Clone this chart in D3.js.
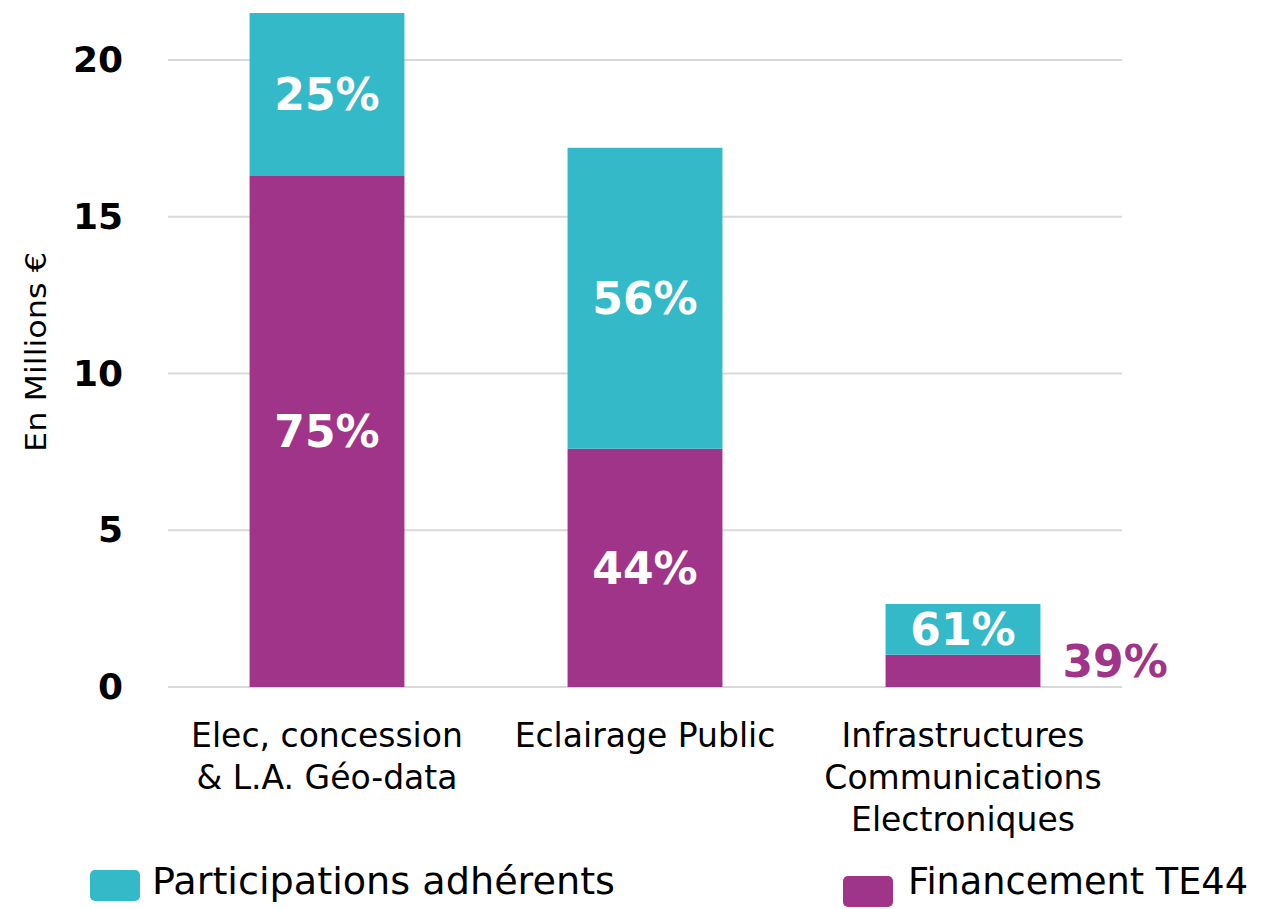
<!DOCTYPE html>
<html>
<head>
<meta charset="utf-8">
<script src="https://cdn.jsdelivr.net/npm/d3@7"></script>
<style>
  body { margin: 0; background: #fff; }
  text { font-family: "DejaVu Sans", Verdana, sans-serif; }
</style>
</head>
<body>
<div id="chart"></div>
<script>
const categories = [
    ["Elec, concession", "& L.A. Géo-data"],
    ["Eclairage Public"],
    ["Infrastructures", "Communications", "Electroniques"]
];
const financementTE44 = [16.3, 7.6, 1.03];
const participations = [5.2, 9.6, 1.62];
const financementPct = ["75%", "44%", "39%"];
const participationsPct = ["25%", "56%", "61%"];
const yTicks = [0, 5, 10, 15, 20];
const seriesNames = ["Participations adhérents", "Financement TE44"];

const teal = "#33b9c8", purple = "#a03489";
const width = 1263, height = 909;

const svg = d3.select("#chart").append("svg")
    .attr("width", width)
    .attr("height", height);

const x = d3.scaleBand()
    .domain(d3.range(categories.length))
    .range([168, 1122])
    .paddingInner(0.513)
    .paddingOuter(0.2565);

const y = d3.scaleLinear()
    .domain([0, 20])
    .range([687, 60]);

// grid lines
svg.append("g")
    .selectAll("line")
    .data(yTicks)
    .join("line")
    .attr("x1", 168)
    .attr("x2", 1122)
    .attr("y1", d => y(d))
    .attr("y2", d => y(d))
    .attr("stroke", "#d9d9d9")
    .attr("stroke-width", 2);

// y axis labels
const yAxis = svg.append("g")
    .attr("transform", "translate(168,0)")
    .call(d3.axisLeft(y).tickValues(yTicks).tickSize(0).tickPadding(45));
yAxis.select(".domain").remove();
yAxis.selectAll("text")
    .attr("font-family", "DejaVu Sans, Verdana, sans-serif")
    .attr("font-weight", "bold")
    .attr("font-size", 36)
    .attr("fill", "#000");

svg.append("text")
    .attr("transform", "translate(46,352) rotate(-90)")
    .attr("text-anchor", "middle")
    .attr("font-size", 28)
    .attr("textLength", 200)
    .attr("lengthAdjust", "spacingAndGlyphs")
    .text("En Millions €");

// bars
const bars = svg.append("g")
    .selectAll("g")
    .data(categories.map((c, i) => ({ i, fin: financementTE44[i], par: participations[i] })))
    .join("g");

bars.append("rect")
    .attr("x", d => x(d.i))
    .attr("width", x.bandwidth())
    .attr("y", d => y(d.fin))
    .attr("height", d => y(0) - y(d.fin))
    .attr("fill", purple);

bars.append("rect")
    .attr("x", d => x(d.i))
    .attr("width", x.bandwidth())
    .attr("y", d => y(d.fin + d.par))
    .attr("height", d => y(d.fin) - y(d.fin + d.par))
    .attr("fill", teal);

// percentage labels
bars.append("text")
    .attr("x", d => x(d.i) + x.bandwidth() / 2)
    .attr("y", d => (y(d.fin) + y(d.fin + d.par)) / 2)
    .attr("dy", "0.36em")
    .attr("text-anchor", "middle")
    .attr("font-weight", "bold")
    .attr("font-size", 44)
    .attr("fill", "#fff")
    .text(d => participationsPct[d.i]);

bars.append("text")
    .attr("x", d => d.i === 2 ? x(d.i) + x.bandwidth() + 22 : x(d.i) + x.bandwidth() / 2)
    .attr("y", d => d.i === 2 ? y(d.fin / 2) - 10 : (y(0) + y(d.fin)) / 2)
    .attr("dy", "0.36em")
    .attr("text-anchor", d => d.i === 2 ? "start" : "middle")
    .attr("font-weight", "bold")
    .attr("font-size", 44)
    .attr("fill", d => d.i === 2 ? purple : "#fff")
    .text(d => financementPct[d.i]);

// category labels
svg.append("g")
    .selectAll("text")
    .data(categories)
    .join("text")
    .attr("x", (d, i) => x(i) + x.bandwidth() / 2)
    .attr("y", 747)
    .attr("text-anchor", "middle")
    .attr("font-size", 33)
    .attr("fill", "#000")
    .selectAll("tspan")
    .data(d => d)
    .join("tspan")
    .attr("x", function () { return this.parentNode.getAttribute("x"); })
    .attr("dy", (d, j) => j === 0 ? 0 : 42)
    .text(d => d);

// legend
const legendX = [90, 843];
const legendTextW = [463, 340];
const legend = svg.append("g")
    .selectAll("g")
    .data(seriesNames)
    .join("g");

legend.append("rect")
    .attr("x", (d, i) => legendX[i])
    .attr("y", (d, i) => i === 0 ? 870 : 876)
    .attr("width", 50)
    .attr("height", 31)
    .attr("rx", 5)
    .attr("fill", (d, i) => i === 0 ? teal : purple);

legend.append("text")
    .attr("x", (d, i) => legendX[i] + (i === 0 ? 62 : 65))
    .attr("y", 894)
    .attr("font-family", "'DejaVu Sans Condensed', 'Liberation Sans Narrow', 'DejaVu Sans', sans-serif")
    .attr("font-size", 38)
    .attr("textLength", (d, i) => legendTextW[i])
    .attr("lengthAdjust", "spacingAndGlyphs")
    .attr("fill", "#000")
    .text(d => d);
</script>
</body>
</html>
